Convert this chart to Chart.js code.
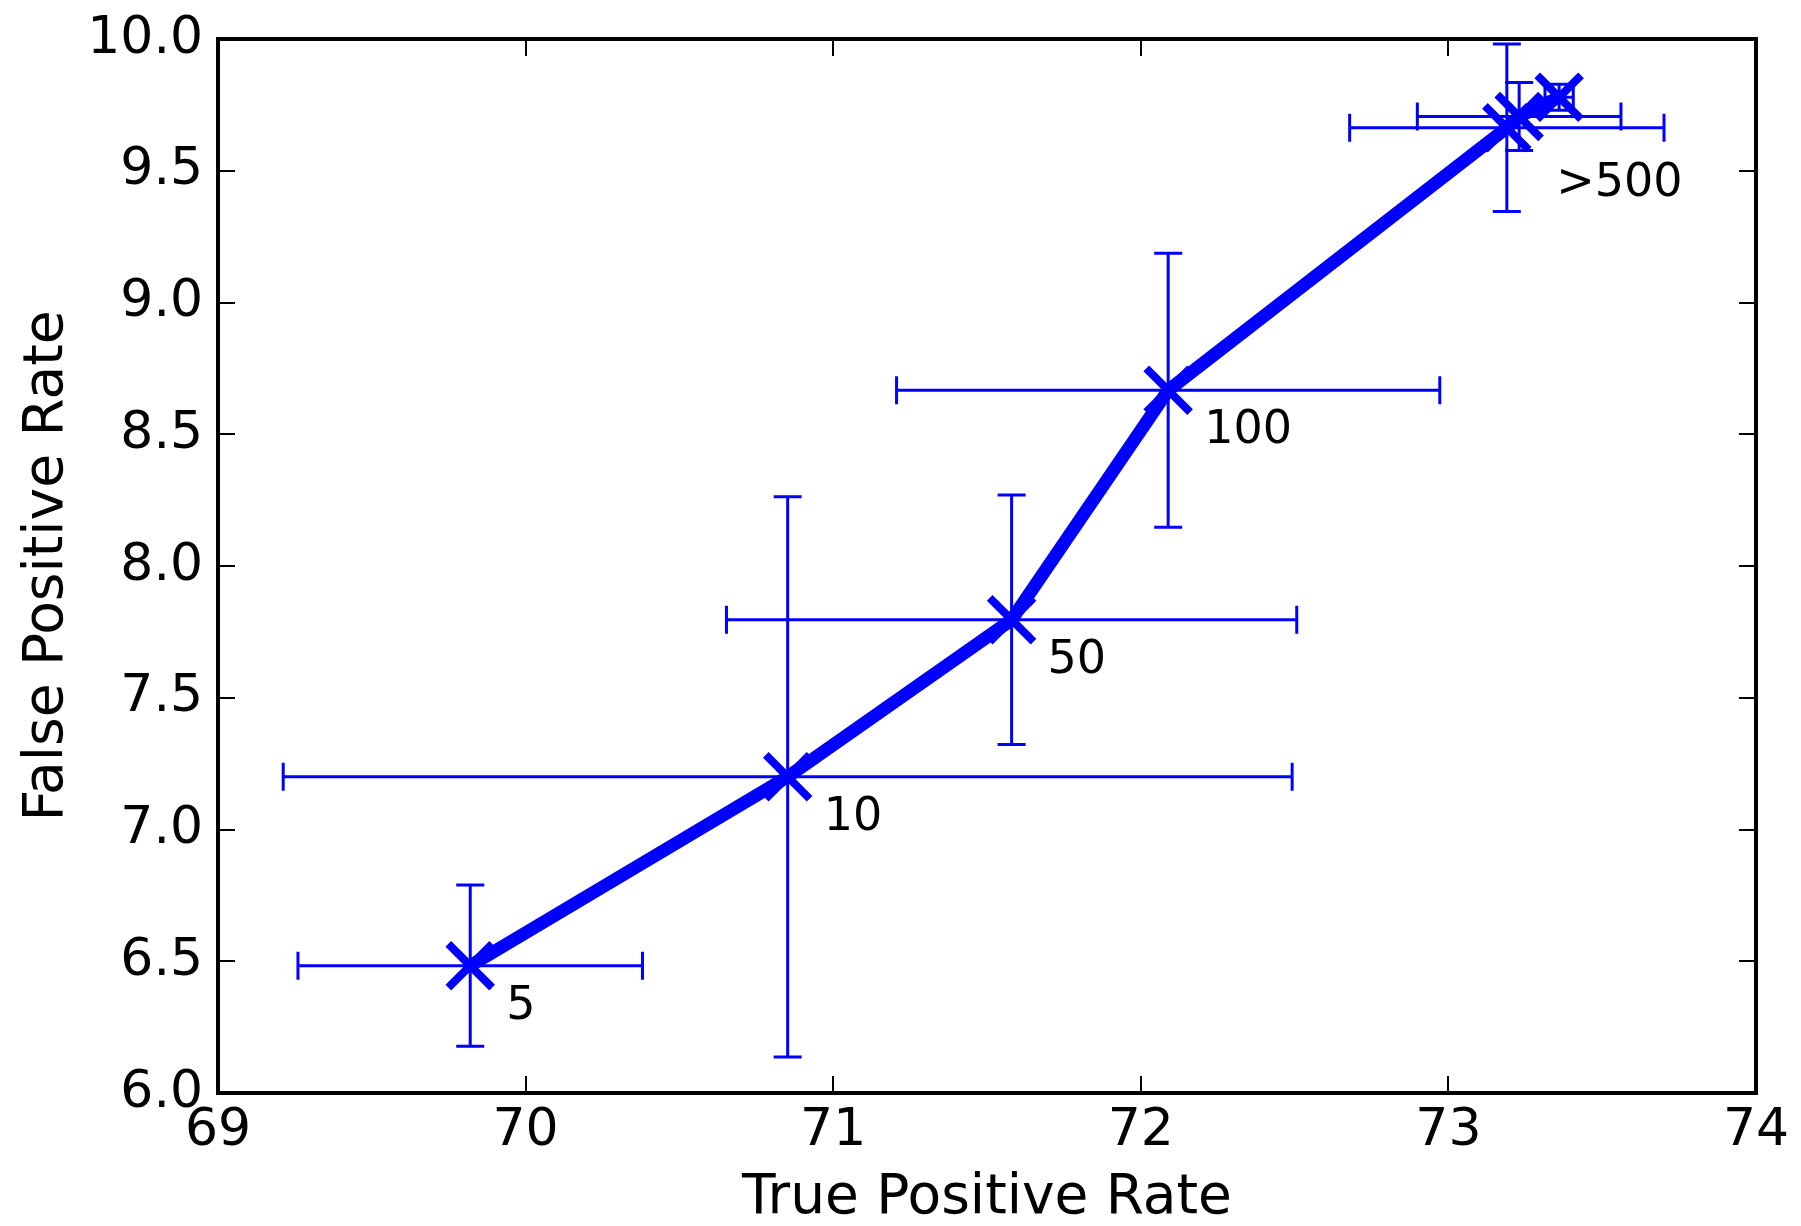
<!DOCTYPE html>
<html>
<head>
<meta charset="utf-8">
<script src="https://cdn.jsdelivr.net/npm/chart.js@4.4.1/dist/chart.umd.min.js"></script>
<style>
  html, body { margin: 0; padding: 0; background: #ffffff; }
  #wrap { width: 1801px; height: 1226px; position: relative; }
</style>
</head>
<body>
<div id="wrap"><canvas id="c" width="1801" height="1226"></canvas></div>
<script>
// ---- data ----
const tpr = [69.82, 70.852, 71.58, 72.089, 73.19, 73.23, 73.36];
const fpr = [6.483, 7.200, 7.796, 8.667, 9.663, 9.706, 9.779];
const tprErr = [0.56, 1.64, 0.927, 0.883, 0.511, 0.331, 0.046];
const fprErr = [0.306, 1.063, 0.473, 0.52, 0.318, 0.129, 0.049];
const pointLabels = ['5', '10', '50', '100', '', '', '>500'];
const xTicks = [69, 70, 71, 72, 73, 74];
const yTicks = [6.0, 6.5, 7.0, 7.5, 8.0, 8.5, 9.0, 9.5, 10.0];

const BLUE = '#0000ff';
const FONT = 'DejaVu Sans';

const errorBars = {
  id: 'errorBars',
  beforeDatasetsDraw(chart) {
    const { ctx, scales: { x, y } } = chart;
    const cap = 14;
    ctx.save();
    ctx.strokeStyle = BLUE;
    ctx.lineWidth = 3;
    ctx.lineCap = 'butt';
    for (let i = 0; i < tpr.length; i++) {
      const px = x.getPixelForValue(tpr[i]);
      const py = y.getPixelForValue(fpr[i]);
      const x0 = x.getPixelForValue(tpr[i] - tprErr[i]);
      const x1 = x.getPixelForValue(tpr[i] + tprErr[i]);
      const y0 = y.getPixelForValue(fpr[i] - fprErr[i]);
      const y1 = y.getPixelForValue(fpr[i] + fprErr[i]);
      ctx.beginPath();
      ctx.moveTo(x0, py); ctx.lineTo(x1, py);
      ctx.moveTo(x0, py - cap); ctx.lineTo(x0, py + cap);
      ctx.moveTo(x1, py - cap); ctx.lineTo(x1, py + cap);
      ctx.moveTo(px, y0); ctx.lineTo(px, y1);
      ctx.moveTo(px - cap, y0); ctx.lineTo(px + cap, y0);
      ctx.moveTo(px - cap, y1); ctx.lineTo(px + cap, y1);
      ctx.stroke();
    }
    ctx.restore();
  }
};

const frameAndLabels = {
  id: 'frameAndLabels',
  afterDatasetsDraw(chart) {
    const { ctx, chartArea: a, scales: { x, y } } = chart;
    ctx.save();
    // point annotations
    ctx.fillStyle = '#000000';
    ctx.font = '46px "' + FONT + '"';
    ctx.textAlign = 'left';
    ctx.textBaseline = 'alphabetic';
    const offsets = { '>500': [-3, 99] };
    for (let i = 0; i < pointLabels.length; i++) {
      const t = pointLabels[i];
      if (!t) continue;
      const off = offsets[t] || [36, 53];
      ctx.fillText(t, x.getPixelForValue(tpr[i]) + off[0], y.getPixelForValue(fpr[i]) + off[1]);
    }
    // inward ticks on all four sides
    const tl = 17;
    ctx.strokeStyle = '#000000';
    ctx.lineWidth = 2;
    ctx.beginPath();
    xTicks.forEach(v => {
      const px = Math.round(x.getPixelForValue(v));
      ctx.moveTo(px, a.bottom); ctx.lineTo(px, a.bottom - tl);
      ctx.moveTo(px, a.top); ctx.lineTo(px, a.top + tl);
    });
    yTicks.forEach(v => {
      const py = Math.round(y.getPixelForValue(v));
      ctx.moveTo(a.left, py); ctx.lineTo(a.left + tl, py);
      ctx.moveTo(a.right, py); ctx.lineTo(a.right - tl, py);
    });
    ctx.stroke();
    // frame
    ctx.lineWidth = 4;
    ctx.strokeRect(a.left, a.top, a.right - a.left, a.bottom - a.top);
    ctx.restore();
  }
};

new Chart(document.getElementById('c'), {
  type: 'scatter',
  data: {
    datasets: [{
      data: tpr.map((v, i) => ({ x: v, y: fpr[i] })),
      showLine: true,
      borderColor: BLUE,
      backgroundColor: BLUE,
      borderWidth: 13,
      pointStyle: 'crossRot',
      pointRadius: 31,
      pointHoverRadius: 31,
      pointBorderWidth: 8,
      pointHoverBorderWidth: 8,
      pointBorderColor: BLUE,
      tension: 0,
      clip: false
    }]
  },
  options: {
    responsive: false,
    animation: false,
    events: [],
    layout: { padding: { left: 0, top: 36, right: 45, bottom: 0 } },
    plugins: { legend: { display: false }, tooltip: { enabled: false } },
    scales: {
      x: {
        type: 'linear',
        min: 69, max: 74,
        afterBuildTicks: s => { s.ticks = xTicks.map(v => ({ value: v })); },
        grid: { display: false, drawTicks: false },
        border: { display: false },
        ticks: {
          color: '#000000',
          font: { family: FONT, size: 52 },
          padding: 7,
          maxRotation: 0,
          callback: v => String(v)
        },
        title: {
          display: true,
          text: 'True Positive Rate',
          color: '#000000',
          font: { family: FONT, size: 55, lineHeight: 1 },
          padding: { top: 0, bottom: 0 }
        },
        afterFit: s => { s.height = 133; s.paddingLeft = 0; s.paddingRight = 0; }
      },
      y: {
        type: 'linear',
        min: 6, max: 10,
        afterBuildTicks: s => { s.ticks = yTicks.map(v => ({ value: v })); },
        grid: { display: false, drawTicks: false },
        border: { display: false },
        ticks: {
          color: '#000000',
          font: { family: FONT, size: 52 },
          padding: 15,
          callback: v => Number(v).toFixed(1)
        },
        title: {
          display: true,
          text: 'False Positive Rate',
          color: '#000000',
          font: { family: FONT, size: 55, lineHeight: 1 },
          padding: { top: 20, bottom: 0 }
        },
        afterFit: s => { s.width = 218; s.paddingTop = 0; s.paddingBottom = 0; }
      }
    }
  },
  plugins: [errorBars, frameAndLabels]
});
</script>
</body>
</html>
